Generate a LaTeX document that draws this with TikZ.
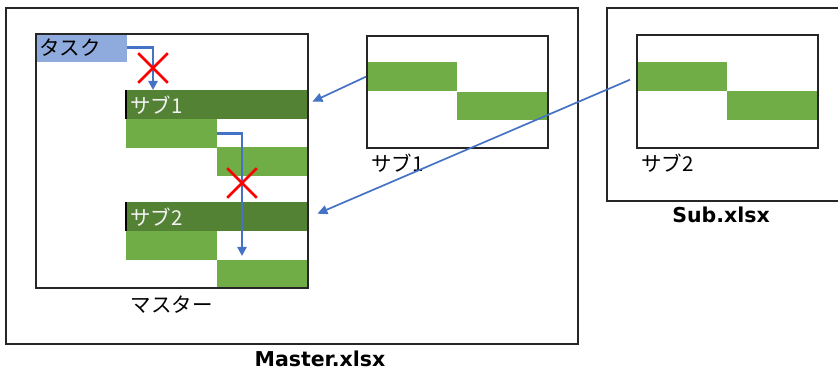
\documentclass[tikz,border=0pt]{standalone}
\usepackage{fontspec}
\setmainfont{DejaVu Sans}
\newfontfamily\jpfont{Noto Sans CJK JP}
\usepackage{xcolor}
\definecolor{cTask}{HTML}{8FAADC}
\definecolor{cHead}{HTML}{548235}
\definecolor{cBar}{HTML}{70AD47}
\definecolor{cLink}{HTML}{4472C4}
\definecolor{cCross}{HTML}{FF0000}
\definecolor{cFrame}{HTML}{262626}
\usepackage{tikz}
\usetikzlibrary{positioning,arrows.meta,shapes.misc,calc}
\tikzset{
  node-frame/.style={draw=cFrame,line width=1.9pt,anchor=north west,inner sep=0pt},
  node-bar/.style={fill=cBar,anchor=north west,inner sep=0pt,
    minimum width=91pt,minimum height=29pt},
  node-head/.style={fill=cHead,anchor=north west,inner xsep=4pt,inner ysep=0pt,
    minimum height=29pt,text width=173pt,align=left,text=white!95!black,
    font=\jpfont\fontsize{20.5}{22}\selectfont},
  node-task/.style={node-head,fill=cTask,text=black,text width=84pt},
  node-jp/.style={font=\jpfont\fontsize{20.5}{22}\selectfont,inner sep=0pt},
  node-file/.style={font=\bfseries\fontsize{20.5}{22}\selectfont,inner sep=0pt},
  node-cross/.style={cross out,draw=cCross,line width=2.6pt,minimum size=27pt,inner sep=0pt},
  arrow-flow/.style={-{Triangle[length=9pt,width=9pt]},line width=2.8pt,draw=cLink},
  arrow-link/.style={-{Triangle[length=10pt,width=9pt]},line width=1.7pt,draw=cLink},
}
\begin{document}
\begin{tikzpicture}[x=1pt,y=-1pt]
  \useasboundingbox (0,0) rectangle (838,379);
  % Master.xlsx
  \node[node-task] (task) at (35,33) {タスク};
  \node[node-head] (sub1head) at (126,90) {サブ1};
  \node[node-bar] (m1a) at (126,119) {};
  \node[node-bar,minimum width=90pt] (m1b) at (217,147) {};
  \node[node-head] (sub2head) at (126,202) {サブ2};
  \node[node-bar] (m2a) at (126,231) {};
  \node[node-bar,minimum width=90pt,minimum height=27pt] (m2b) at (217,260) {};
  \draw[black,line width=1.2pt] (sub1head.north west) -- (sub1head.south west);
  \draw[black,line width=1.2pt] (sub2head.north west) -- (sub2head.south west);
  \node[node-frame,minimum width=272pt,minimum height=254pt] (sheet) at (35,33) {};
  \node[node-frame,minimum width=572pt,minimum height=336pt] (master) at (5,7) {};
  \node[node-jp,below=7pt of sheet] (sheetlbl) {マスター};
  \node[node-file] (masterlbl) at (320,359) {Master.xlsx};
  \coordinate (dst1) at ($(sub1head.north west)+(27,0)$);
  \coordinate (dst2) at (242,256);
  \draw[arrow-flow] (task.east) -| (dst1);
  \draw[arrow-flow] (m1a.east) -| (dst2);
  \node[node-cross] (cross1) at (153,68) {};
  \node[node-cross] (cross2) at (242,183) {};
  % サブ1
  \node[node-bar] (s1a) at (366,62) {};
  \node[node-bar,minimum width=90pt,minimum height=28pt] (s1b) at (457,92) {};
  \node[node-frame,minimum width=181pt,minimum height=112pt] (sub1) at (366,35) {};
  \node[node-jp,anchor=west] (sub1lbl) at (371,163) {サブ1};
  % Sub.xlsx
  \node[node-bar] (s2a) at (636,62) {};
  \node[node-bar,minimum width=90pt] (s2b) at (727,91) {};
  \node[node-frame,minimum width=181pt,minimum height=113pt] (sub2) at (636,34) {};
  \node[node-jp,anchor=west] (sub2lbl) at (641,163) {サブ2};
  \node[node-frame,minimum width=250pt,minimum height=193pt] (subfile) at (606,7) {};
  \node[node-file] (sublbl) at (721,215) {Sub.xlsx};
  \draw[arrow-link] (s1a.west) -- ([xshift=5pt,yshift=3pt]sub1head.east);
  \draw[arrow-link] ([xshift=-6pt,yshift=-3pt]s2a.west) -- ([xshift=10pt,yshift=3pt]sub2head.east);
\end{tikzpicture}
\end{document}
